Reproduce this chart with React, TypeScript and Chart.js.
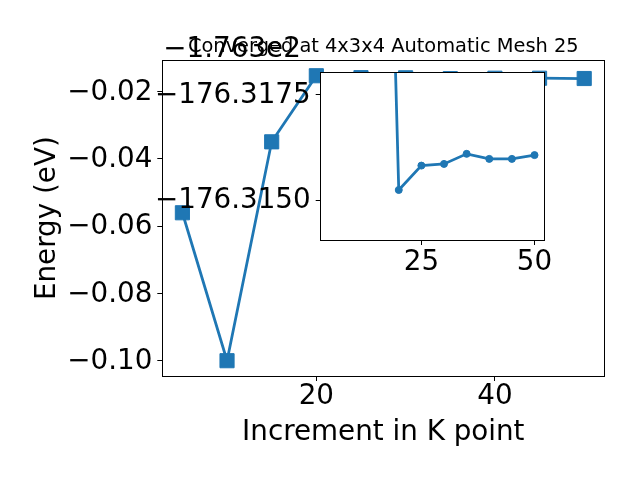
import React, { useEffect, useRef } from 'react';
import { Chart, registerables } from 'chart.js';

Chart.register(...registerables);

// ---- data ----
const kPoints = [5, 10, 15, 20, 25, 30, 35, 40, 45, 50];
const energies = [
  -176.356, -176.4, -176.3349, -176.31524, -176.31582,
  -176.31586, -176.3161, -176.31598, -176.31598, -176.31607,
];
const mainOffset = -176.3;
const mainYTicks = [-0.1, -0.08, -0.06, -0.04, -0.02];
const mainXTicks = [20, 40];
const insetYTicks = [-176.3175, -176.315];
const insetXTicks = [25, 50];
const titleText = 'Converged at 4x3x4 Automatic Mesh 25';
const offsetText = '\u22121.763e2';
const xLabel = 'Increment in K point';
const yLabel = 'Energy (eV)';

const COLOR = '#1f77b4';
const FAMILY = '"DejaVu Sans", sans-serif';
const TICK_SIZE = 27.78;
const LINE_W = 2.78;

const minus = (s: string) => s.replace('-', '\u2212');

const framePlugin = {
  id: 'frame',
  afterDraw(chart: any) {
    const { left, top, right, bottom } = chart.chartArea;
    const ctx = chart.ctx;
    ctx.save();
    ctx.strokeStyle = '#000';
    ctx.lineWidth = 1;
    const l = Math.floor(left) + 0.5;
    const t = Math.floor(top) + 0.5;
    const r = Math.floor(right) + 0.5;
    const b = Math.floor(bottom) + 0.5;
    ctx.strokeRect(l, t, r - l, b - t);
    ctx.restore();
  },
};

const whiteBgPlugin = {
  id: 'whiteBg',
  beforeDraw(chart: any) {
    const { left, top, right, bottom } = chart.chartArea;
    const ctx = chart.ctx;
    ctx.save();
    ctx.fillStyle = '#fff';
    ctx.fillRect(left, top, right - left, bottom - top);
    ctx.restore();
  },
};

const textPlugin = {
  id: 'texts',
  afterDraw(chart: any) {
    const { left, top, right, bottom } = chart.chartArea;
    const ctx = chart.ctx;
    const cx = (left + right) / 2;
    const cy = (top + bottom) / 2;
    ctx.save();
    ctx.fillStyle = '#000';
    ctx.textBaseline = 'alphabetic';
    // offset text
    ctx.font = `${TICK_SIZE}px ${FAMILY}`;
    ctx.textAlign = 'left';
    ctx.fillText(offsetText, left + 1, top - 3.5);
    // title
    ctx.font = `19.4px ${FAMILY}`;
    ctx.textAlign = 'center';
    ctx.fillText(titleText, cx, top - 8);
    // x label
    ctx.font = `${TICK_SIZE}px ${FAMILY}`;
    ctx.fillText(xLabel, cx, 440);
    // y label
    ctx.translate(55, cy);
    ctx.rotate(-Math.PI / 2);
    ctx.fillText(yLabel, 0, 0);
    ctx.restore();
  },
};

function axisCommon() {
  return {
    grid: { drawOnChartArea: false, drawTicks: true, tickLength: 5, color: '#000', lineWidth: 1 },
    border: { display: false },
  };
}

export default function App() {
  const mainRef = useRef<HTMLCanvasElement>(null);
  const insetRef = useRef<HTMLCanvasElement>(null);

  useEffect(() => {
    const mainChart = new Chart(mainRef.current as HTMLCanvasElement, {
      type: 'line',
      data: {
        datasets: [
          {
            data: kPoints.map((k, i) => ({ x: k, y: energies[i] })),
            borderColor: COLOR,
            backgroundColor: COLOR,
            borderWidth: LINE_W,
            pointStyle: 'rect',
            pointRadius: 10,
            pointBorderWidth: 1,
            pointBorderColor: COLOR,
            pointBackgroundColor: COLOR,
            tension: 0,
            fill: false,
          },
        ],
      },
      options: {
        responsive: false,
        animation: false,
        devicePixelRatio: 1,
        events: [],
        layout: { padding: { left: 0, top: 60.3, right: 35.7, bottom: 0 } },
        plugins: { legend: { display: false }, tooltip: { enabled: false }, title: { display: false } },
        scales: {
          x: {
            type: 'linear',
            min: 2.75,
            max: 52.25,
            ...axisCommon(),
            afterBuildTicks: (s: any) => { s.ticks = mainXTicks.map((v) => ({ value: v })); },
            afterFit: (s: any) => { s.height = 104; },
            ticks: {
              color: '#000',
              font: { size: TICK_SIZE, family: FAMILY, lineHeight: 1 },
              padding: 1.8,
              maxRotation: 0,
              callback: (v: any) => String(v),
            },
          },
          y: {
            type: 'linear',
            min: mainOffset - 0.10455,
            max: mainOffset - 0.01065,
            ...axisCommon(),
            afterBuildTicks: (s: any) => { s.ticks = mainYTicks.map((v) => ({ value: v + mainOffset })); },
            afterFit: (s: any) => { s.width = 162.3; },
            ticks: {
              color: '#000',
              font: { size: TICK_SIZE, family: FAMILY },
              padding: 5,
              labelOffset: 1,
              callback: (v: any) => minus((Number(v) - mainOffset).toFixed(2)),
            },
          },
        },
      },
      plugins: [framePlugin, textPlugin],
    } as any);

    const insetChart = new Chart(insetRef.current as HTMLCanvasElement, {
      type: 'line',
      data: {
        datasets: [
          {
            data: kPoints.map((k, i) => ({ x: k, y: energies[i] })),
            borderColor: COLOR,
            backgroundColor: COLOR,
            borderWidth: LINE_W,
            pointStyle: 'circle',
            pointRadius: 3.5,
            pointBorderWidth: 1,
            pointBorderColor: COLOR,
            pointBackgroundColor: COLOR,
            tension: 0,
            fill: false,
          },
        ],
      },
      options: {
        responsive: false,
        animation: false,
        devicePixelRatio: 1,
        events: [],
        layout: { padding: { left: 0, top: 72.3, right: 95.3, bottom: 0 } },
        plugins: { legend: { display: false }, tooltip: { enabled: false }, title: { display: false } },
        scales: {
          x: {
            type: 'linear',
            min: 2.75,
            max: 52.25,
            ...axisCommon(),
            afterBuildTicks: (s: any) => { s.ticks = insetXTicks.map((v) => ({ value: v })); },
            afterFit: (s: any) => { s.height = 240; },
            ticks: {
              color: '#000',
              font: { size: TICK_SIZE, family: FAMILY, lineHeight: 1 },
              padding: 4.2,
              maxRotation: 0,
              callback: (v: any) => String(v),
            },
          },
          y: {
            type: 'linear',
            reverse: true,
            min: -176.31804,
            max: -176.31405,
            ...axisCommon(),
            afterBuildTicks: (s: any) => { s.ticks = insetYTicks.map((v) => ({ value: v })); },
            afterFit: (s: any) => { s.width = 320.7; },
            ticks: {
              color: '#000',
              font: { size: TICK_SIZE, family: FAMILY },
              padding: 5,
              labelOffset: 1,
              callback: (v: any) => minus(Number(v).toFixed(4)),
            },
          },
        },
      },
      plugins: [whiteBgPlugin, framePlugin],
    } as any);

    return () => {
      mainChart.destroy();
      insetChart.destroy();
    };
  }, []);

  return (
    <div style={{ position: 'absolute', left: 0, top: 0, width: 640, height: 480, background: '#fff' }}>
      <canvas ref={mainRef} width={640} height={480} style={{ position: 'absolute', left: 0, top: 0 }} />
      <canvas ref={insetRef} width={640} height={480} style={{ position: 'absolute', left: 0, top: 0 }} />
    </div>
  );
}
